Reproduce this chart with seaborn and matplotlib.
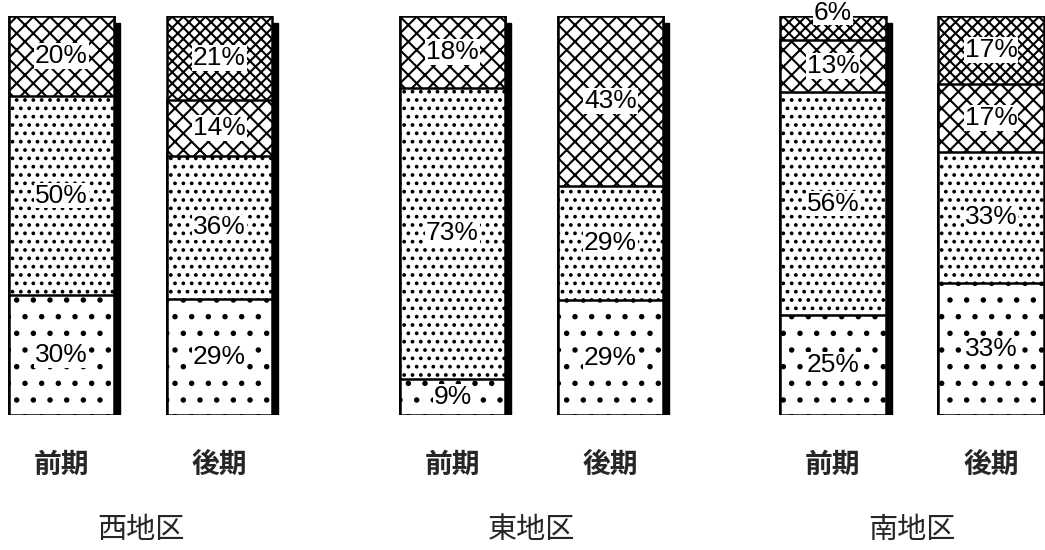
import numpy as np
import pandas as pd
import matplotlib
matplotlib.use("Agg")
import matplotlib.pyplot as plt
from matplotlib.patches import Rectangle
import seaborn as sns

# ---------------- data ----------------
regions = ["西地区", "東地区", "南地区"]
periods = ["前期", "後期"]
# segments from bottom to top, in order 西前, 西後, 東前, 東後, 南前, 南後
seg1 = [30, 29, 9, 29, 25, 33]     # sparse dots
seg2 = [50, 36, 73, 29, 56, 33]    # dense dots
seg3 = [20, 14, 18, 43, 13, 17]    # light cross-hatch
seg4 = [0, 21, 0, 0, 6, 17]        # dark cross-hatch

# ---------------- style ----------------
sns.set_theme(style="white")
plt.rcParams["font.family"] = ["Noto Sans CJK JP", "DejaVu Sans"]
plt.rcParams["hatch.linewidth"] = 1.5
plt.rcParams["hatch.color"] = "black"

W, H = 1045, 550
fig = plt.figure(figsize=(W / 100, H / 100), dpi=100)
fig.patch.set_facecolor("white")

segs = np.array([seg1, seg2, seg3, seg4], dtype=float)
totals = segs.sum(axis=0)
norm = segs / totals * 100.0
cum = np.cumsum(norm, axis=0)

rows = []
for i in range(6):
    rows.append(dict(region=regions[i // 2], period=periods[i % 2],
                     c1=cum[0, i], c2=cum[1, i], c3=cum[2, i], c4=cum[3, i]))
df = pd.DataFrame(rows)

hatches = ["xxx", "xx", "..", "."]   # for c4, c3, c2, c1
cols = ["c4", "c3", "c2", "c1"]

unit = 158.0
centers = [61.5, 452.5, 833.0]
y_bottom, y_top = 415.0, 16.0
bar_w = 0.67
label_font = ["Liberation Sans Narrow", "Liberation Sans", "DejaVu Sans"]

for g, reg in enumerate(regions):
    left = (centers[g] - 0.4 * unit) / W
    ax = fig.add_axes([left, (H - y_bottom) / H, 1.8 * unit / W, (y_bottom - y_top) / H])
    sub = df[df["region"] == reg]
    for col, hat in zip(cols, hatches):
        sns.barplot(data=sub, x="period", y=col, order=periods, color="white",
                    saturation=1, edgecolor="black", linewidth=1.8, hatch=hat,
                    width=bar_w, errorbar=None, ax=ax, zorder=3)
    ax.set_xlim(-0.4, 1.4)
    ax.set_ylim(0, 100)
    ax.set_facecolor("none")
    for s in ax.spines.values():
        s.set_visible(False)
    ax.set_yticks([])
    ax.set_ylabel("")
    ax.tick_params(axis="x", length=0, pad=26)
    ax.set_xticks(range(len(periods)))
    ax.set_xticklabels(periods, fontsize=20, fontweight="bold")
    ax.set_xlabel(reg, fontsize=21, labelpad=26)

    # drop shadows on the right side
    fig.canvas.draw()
    inv = ax.transData.inverted()
    p0 = ax.transData.transform((0, 0))
    dx = inv.transform(p0 + np.array([6, 0]))[0] - inv.transform(p0)[0]
    dy = inv.transform(p0 + np.array([0, 7]))[1] - inv.transform(p0)[1]
    for bar in ax.containers[0]:
        x = bar.get_x() + bar.get_width()
        ax.add_patch(Rectangle((x, 0), dx, bar.get_height() - dy,
                               facecolor="black", edgecolor="black", zorder=2))

    # percentage labels
    for j in range(2):
        i = g * 2 + j
        bottoms = [0.0, cum[0, i], cum[1, i], cum[2, i]]
        for k in range(4):
            v = segs[k, i]
            if v <= 0:
                continue
            yc = bottoms[k] + norm[k, i] / 2
            off = 0
            if k == 3 and v < 10:
                off = 11
            ax.annotate(f"{int(v)}%", (j, yc), xytext=(0, off), textcoords="offset points",
                        ha="center", va="center", fontsize=19, family=label_font,
                        color="black", zorder=5,
                        bbox=dict(facecolor="white", edgecolor="none", pad=0.5))

fig.savefig("out.png", dpi=100, facecolor="white")
